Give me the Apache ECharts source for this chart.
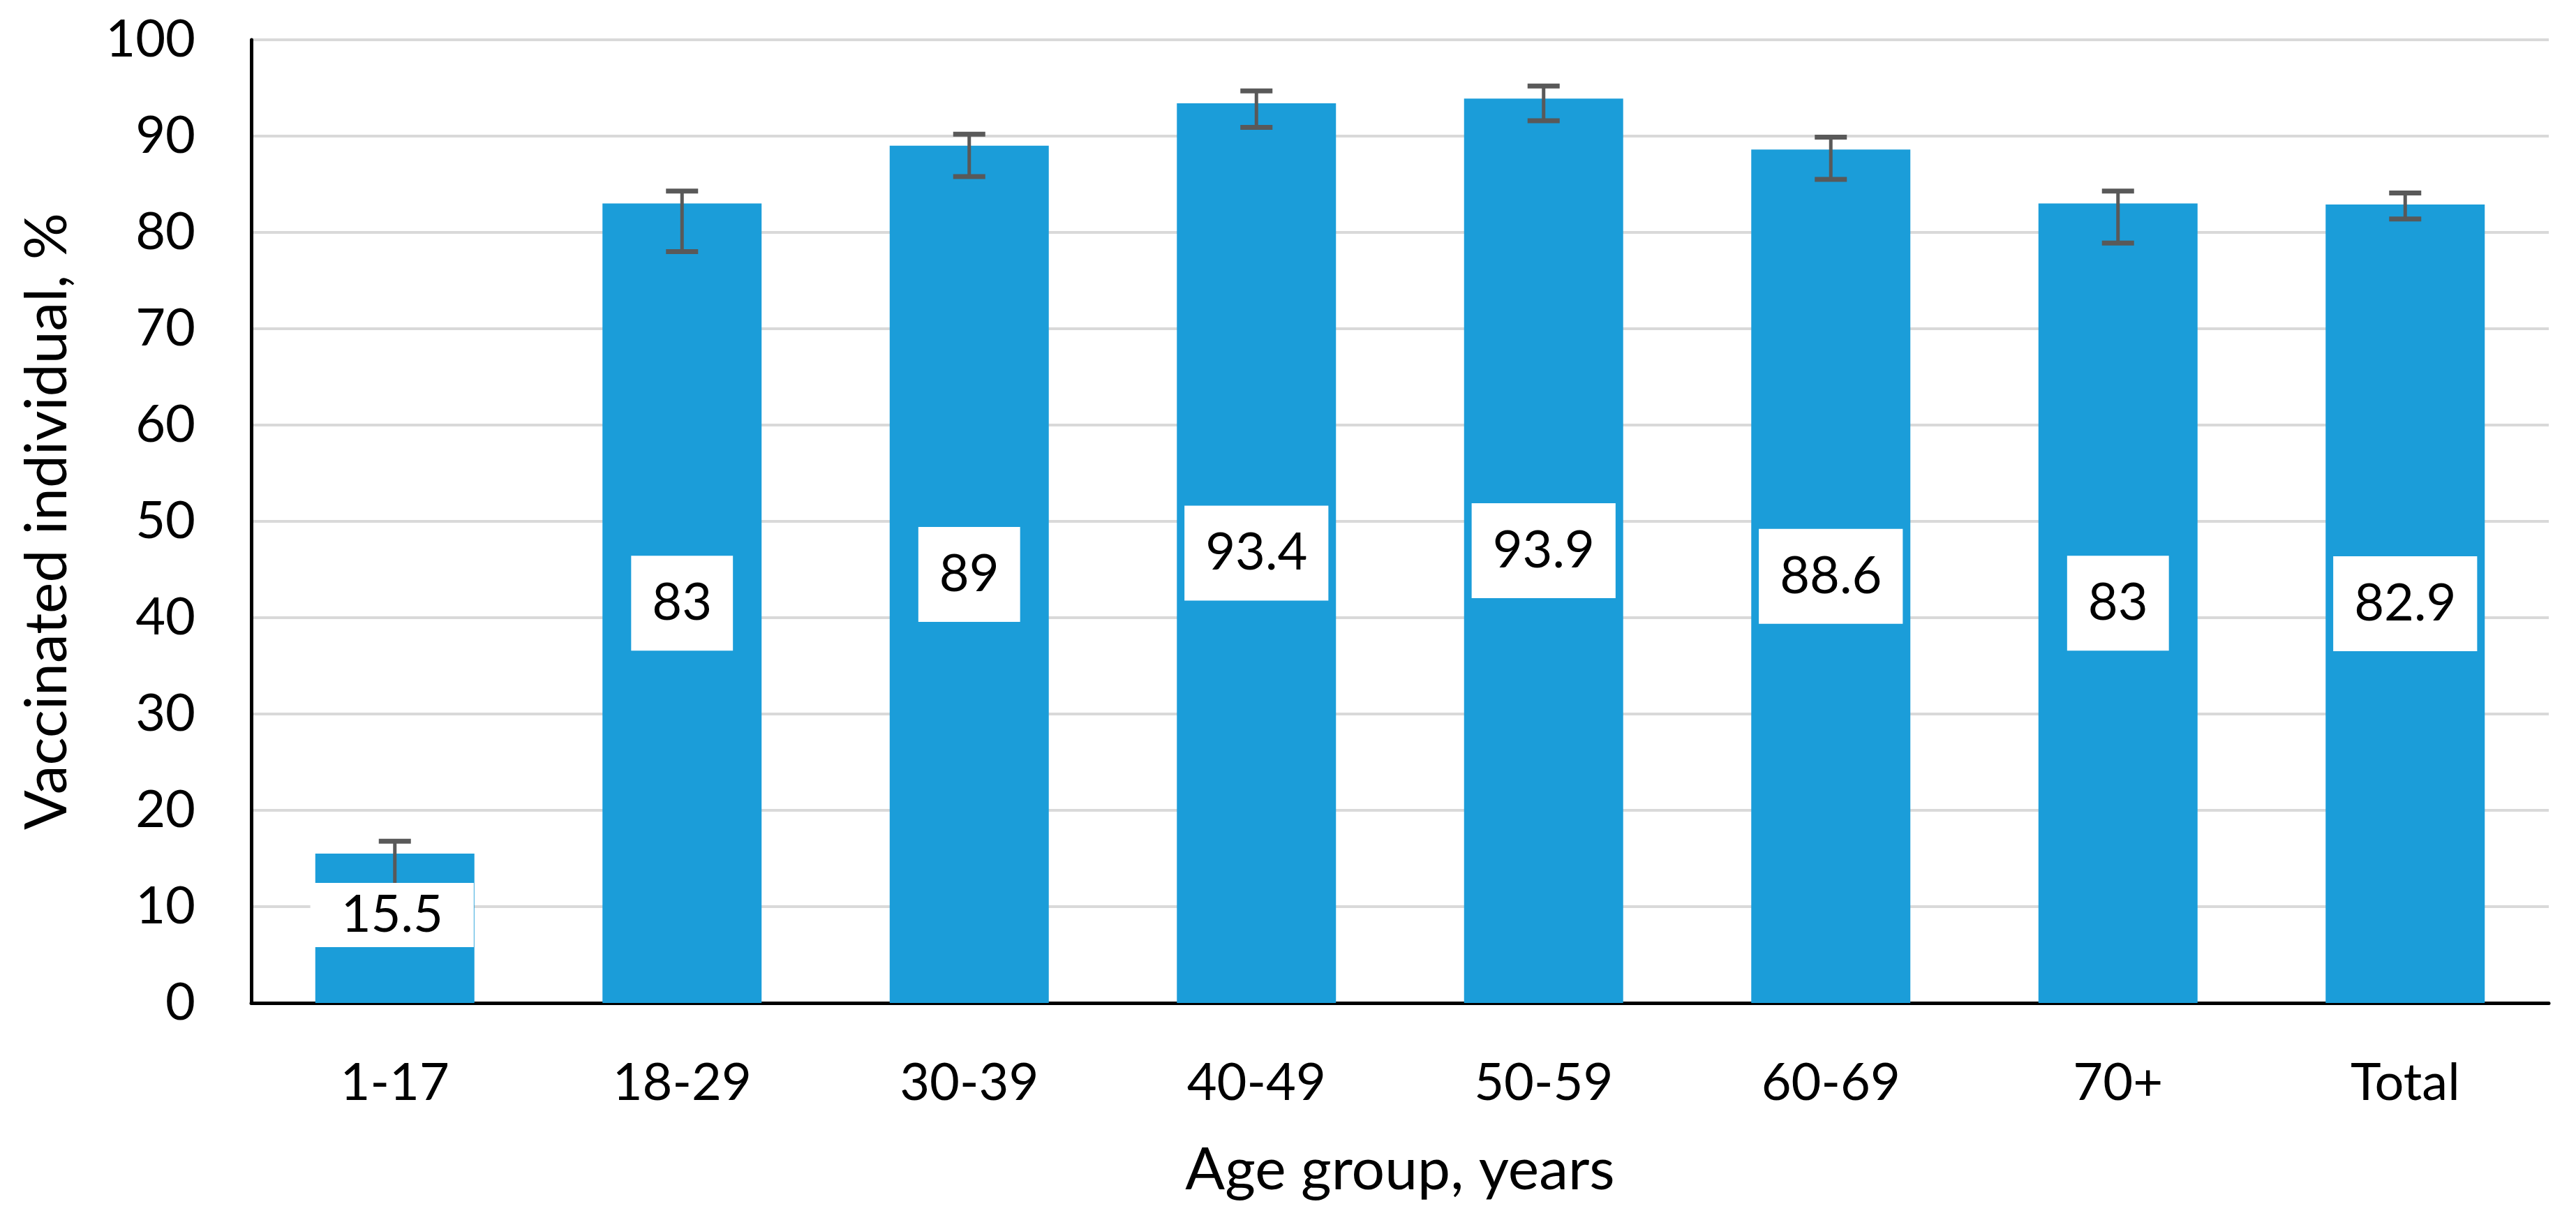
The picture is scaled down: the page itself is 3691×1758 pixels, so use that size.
<!DOCTYPE html>
<html>
<head>
<meta charset="utf-8">
<script src="https://cdn.jsdelivr.net/npm/echarts@6/dist/echarts.min.js"></script>
<style>
html,body{margin:0;padding:0;background:#fff;}
#chart{width:3691px;height:1758px;}
</style>
</head>
<body>
<div id="chart"></div>
<script>
const categories = ['1-17', '18-29', '30-39', '40-49', '50-59', '60-69', '70+', 'Total'];
const values = [15.5, 83, 89, 93.4, 93.9, 88.6, 83, 82.9];
const ciLow = [12.0, 78.0, 85.8, 90.9, 91.6, 85.5, 78.9, 81.4];
const ciHigh = [16.8, 84.3, 90.2, 94.7, 95.2, 89.9, 84.3, 84.1];
const yAxisTitle = 'Vaccinated individual, %';
const xAxisTitle = 'Age group, years';

const FONT = 'Lato';
const chart = echarts.init(document.getElementById('chart'));

const labelData = values.map((v, i) => {
  if (i === 0) {
    return { value: v, label: { padding: [9, 44, 9, 44], offset: [-4, -19] } };
  }
  return v;
});

const option = {
  backgroundColor: '#ffffff',
  animation: false,
  grid: { left: 360, right: 39, top: 57, bottom: 321, containLabel: false },
  xAxis: {
    type: 'category',
    data: categories,
    axisLine: { show: true, lineStyle: { color: '#000', width: 5 } },
    axisTick: { show: false },
    axisLabel: { color: '#000', fontSize: 74, fontFamily: FONT, margin: 78 },
    name: xAxisTitle,
    nameLocation: 'middle',
    nameGap: 198,
    nameTextStyle: { color: '#000', fontSize: 84, fontFamily: FONT }
  },
  yAxis: {
    type: 'value',
    min: 0,
    max: 100,
    interval: 10,
    axisLine: { show: true, lineStyle: { color: '#000', width: 5 } },
    axisTick: { show: false },
    splitLine: { show: true, lineStyle: { color: '#d9d9d9', width: 4 } },
    axisLabel: { color: '#000', fontSize: 74, fontFamily: FONT, margin: 80 },
    name: yAxisTitle,
    nameLocation: 'middle',
    nameGap: 250,
    nameTextStyle: { color: '#000', fontSize: 84, fontFamily: FONT }
  },
  series: [
    {
      type: 'bar',
      data: values,
      barWidth: '55.4%',
      z: 2,
      itemStyle: { color: '#1b9dd9' },
      silent: true
    },
    {
      type: 'custom',
      z: 3,
      silent: true,
      data: categories.map((c, i) => [i, ciLow[i], ciHigh[i]]),
      encode: { x: 0, y: [1, 2] },
      renderItem: function (params, api) {
        const x = api.value(0);
        const lo = api.coord([x, api.value(1)]);
        const hi = api.coord([x, api.value(2)]);
        const cap = 23;
        const st = { stroke: '#595959', lineWidth: 5 };
        const capSt = { stroke: '#595959', lineWidth: 7 };
        return {
          type: 'group',
          children: [
            { type: 'line', shape: { x1: lo[0], y1: lo[1], x2: hi[0], y2: hi[1] }, style: st },
            { type: 'line', shape: { x1: lo[0] - cap, y1: lo[1], x2: lo[0] + cap, y2: lo[1] }, style: capSt },
            { type: 'line', shape: { x1: hi[0] - cap, y1: hi[1], x2: hi[0] + cap, y2: hi[1] }, style: capSt }
          ]
        };
      }
    },
    {
      type: 'bar',
      data: labelData,
      barWidth: '55.4%',
      barGap: '-100%',
      z: 4,
      silent: true,
      itemStyle: { color: 'rgba(0,0,0,0)' },
      label: {
        show: true,
        position: 'inside',
        color: '#000',
        fontSize: 74,
        lineHeight: 74,
        fontFamily: FONT,
        backgroundColor: '#ffffff',
        padding: [31, 30, 31, 30]
      }
    }
  ]
};
chart.setOption(option);
</script>
</body>
</html>
